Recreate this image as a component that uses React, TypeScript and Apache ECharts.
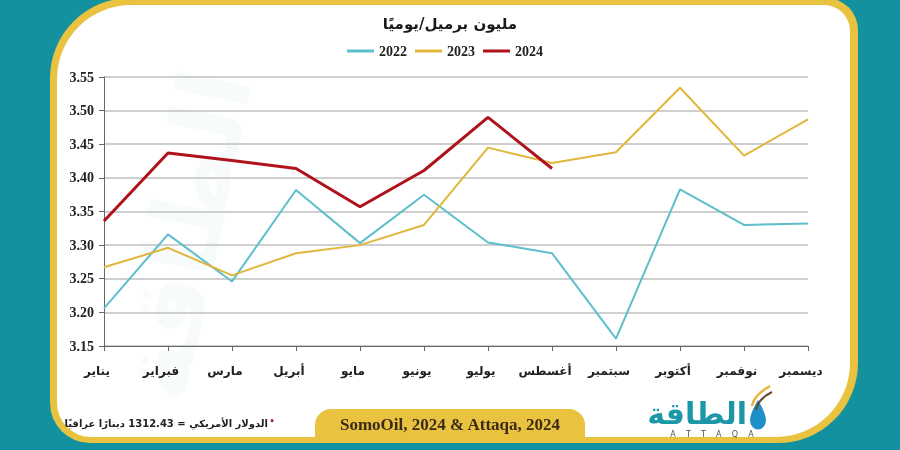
import React, { useEffect, useRef } from "react";
import * as echarts from "echarts";

const months = ["يناير", "فبراير", "مارس", "أبريل", "مايو", "يونيو", "يوليو", "أغسطس", "سبتمبر", "أكتوبر", "نوفمبر", "ديسمبر"];
const y2022 = [3.206, 3.316, 3.246, 3.382, 3.303, 3.375, 3.304, 3.288, 3.161, 3.383, 3.330, 3.332];
const y2023 = [3.267, 3.296, 3.255, 3.288, 3.300, 3.330, 3.445, 3.422, 3.438, 3.534, 3.433, 3.487];
const y2024 = [3.336, 3.437, 3.426, 3.414, 3.357, 3.411, 3.490, 3.414];
const seriesNames = ["2022", "2023", "2024"];
const titleText = "مليون برميل/يوميًا";
const sourceText = "SomoOil, 2024 & Attaqa, 2024";
const noteText = "الدولار الأمريكي = 1312.43 دينارًا عراقيًا";

const TEAL_BG = "#13919f";
const YELLOW = "#e9c23f";

echarts.graphic.registerShape(
  "drop",
  echarts.graphic.extendPath("M10 0 C 10 0 0 14 0 21 A 10 10 0 0 0 20 21 C 20 14 10 0 10 0 Z", {})
);

export default function App() {
  const ref = useRef<HTMLDivElement>(null);
  useEffect(() => {
    document.body.style.margin = "0";
    if (!ref.current) return;
    const chart = echarts.init(ref.current, undefined, { renderer: "svg" });
    const option: any = {
      animation: false,
      backgroundColor: "transparent",
      title: {
        text: titleText,
        left: "center",
        top: 11,
        textStyle: { fontFamily: "DejaVu Sans", fontSize: 15, fontWeight: "bold", color: "#1a1a1a" },
      },
      legend: {
        data: seriesNames,
        left: 342,
        top: 39,
        icon: "rect",
        itemWidth: 27,
        itemHeight: 3,
        itemGap: 8,
        textStyle: { fontFamily: "Liberation Serif", fontSize: 14, fontWeight: "bold", color: "#222" },
      },
      grid: { left: 104, right: 92, top: 77, bottom: 104, containLabel: false },
      xAxis: {
        type: "category",
        data: months,
        boundaryGap: false,
        axisLine: { lineStyle: { color: "#666", width: 1 } },
        axisTick: { show: true, length: 5, lineStyle: { color: "#666" } },
        axisLabel: {
          margin: 19,
          fontFamily: "DejaVu Sans",
          fontSize: 12,
          fontWeight: "bold",
          color: "#222",
          padding: [0, 14, 0, 0],
          interval: 0,
        },
        splitLine: { show: false },
      },
      yAxis: {
        type: "value",
        min: 3.15,
        max: 3.55,
        interval: 0.05,
        axisLine: { show: true, lineStyle: { color: "#666", width: 1 } },
        axisTick: { show: true, length: 5, lineStyle: { color: "#666" } },
        axisLabel: {
          margin: 10,
          fontFamily: "Liberation Serif",
          fontSize: 14,
          fontWeight: "bold",
          color: "#222",
          formatter: (v: number) => v.toFixed(2),
        },
        splitLine: { show: true, lineStyle: { color: "#cfcfcf", width: 2 } },
      },
      series: [
        {
          name: seriesNames[0],
          type: "line",
          data: y2022,
          showSymbol: false,
          lineStyle: { color: "#5cbfca", width: 2 },
          itemStyle: { color: "#5cbfca" },
          z: 3,
        },
        {
          name: seriesNames[1],
          type: "line",
          data: y2023,
          showSymbol: false,
          lineStyle: { color: "#e0b63b", width: 2 },
          itemStyle: { color: "#e0b63b" },
          z: 4,
        },
        {
          name: seriesNames[2],
          type: "line",
          data: y2024,
          showSymbol: false,
          lineStyle: { color: "#b0121c", width: 3 },
          itemStyle: { color: "#b0121c" },
          z: 5,
        },
      ],
      graphic: [
        { type: "rect", z: -100, silent: true, shape: { x: 0, y: 0, width: 900, height: 450 }, style: { fill: TEAL_BG } },
        { type: "rect", z: -99, silent: true, shape: { x: 50, y: -2, width: 808, height: 445, r: [80, 32, 80, 40] }, style: { fill: YELLOW } },
        { type: "rect", z: -98, silent: true, shape: { x: 57, y: 5, width: 793, height: 432, r: [74, 26, 74, 34] }, style: { fill: "#ffffff" } },
        {
          type: "text",
          z: -97,
          silent: true,
          x: 185,
          y: 235,
          rotation: Math.PI / 2.3,
          style: {
            text: "الطاقة",
            fill: "rgba(20,145,160,0.035)",
            font: "bold 100px 'DejaVu Sans'",
            align: "center",
            verticalAlign: "middle",
          },
        },
        { type: "rect", z: 10, silent: true, shape: { x: 315, y: 409, width: 270, height: 32, r: [16, 16, 0, 0] }, style: { fill: YELLOW } },
        {
          type: "text",
          z: 11,
          x: 450,
          y: 424,
          style: {
            text: sourceText,
            fill: "#3a2b17",
            font: "bold 17px 'Liberation Serif'",
            align: "center",
            verticalAlign: "middle",
          },
        },
        {
          type: "text",
          z: 11,
          x: 268,
          y: 423,
          style: {
            text: noteText,
            fill: "#222",
            font: "bold 10px 'DejaVu Sans'",
            align: "right",
            verticalAlign: "middle",
          },
        },
        {
          type: "text",
          z: 11,
          x: 272,
          y: 421,
          style: {
            text: "•",
            fill: "#b0121c",
            font: "bold 8px 'DejaVu Sans'",
            align: "center",
            verticalAlign: "middle",
          },
        },
        {
          type: "text",
          z: 11,
          x: 747,
          y: 413,
          style: {
            text: "الطاقة",
            fill: "#1b97a8",
            font: "bold 30px 'DejaVu Sans'",
            align: "right",
            verticalAlign: "middle",
          },
        },
        {
          type: "text",
          z: 11,
          x: 712,
          y: 434,
          style: {
            text: "A    T    T    A    Q    A",
            fill: "#555",
            font: "8px 'DejaVu Sans'",
            align: "center",
            verticalAlign: "middle",
          },
        },
        {
          type: "drop",
          z: 11,
          x: 750,
          y: 400,
          scaleX: 0.8,
          scaleY: 0.95,
          style: { fill: "#1f8fc8" },
        },
        {
          type: "bezierCurve",
          z: 11,
          shape: { x1: 752, y1: 406, x2: 770, y2: 386, cpx1: 754, cpy1: 395 },
          style: { stroke: "#e9b43a", lineWidth: 2.5, fill: "none" },
        },
        {
          type: "bezierCurve",
          z: 11,
          shape: { x1: 756, y1: 410, x2: 772, y2: 392, cpx1: 758, cpy1: 399 },
          style: { stroke: "#6b4a2b", lineWidth: 2, fill: "none" },
        },
      ],
    };
    chart.setOption(option);
    return () => chart.dispose();
  }, []);
  return <div ref={ref} style={{ position: "fixed", left: 0, top: 0, width: 900, height: 450 }} />;
}
